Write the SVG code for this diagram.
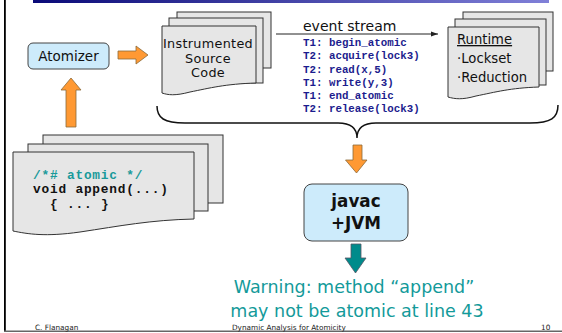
<svg xmlns="http://www.w3.org/2000/svg" width="562" height="333" viewBox="0 0 562 333">
<defs>
<linearGradient id="bar" x1="0" y1="0" x2="1" y2="0">
<stop offset="0" stop-color="#0a0a78"/>
<stop offset="1" stop-color="#8080d8"/>
</linearGradient>
<marker id="ah" markerWidth="8" markerHeight="6" refX="7" refY="3" orient="auto" markerUnits="userSpaceOnUse">
<path d="M0,0.5 L7,3 L0,5.5 Z" fill="#222"/>
</marker>
<style>
.page{fill:#e6e6e6;stroke:#333;stroke-width:1}
.box{fill:#cdebfb;stroke:#444;stroke-width:1}
.orange{fill:#ff9933;stroke:#8a6a3a;stroke-width:0.8}
.teal{fill:#008b8b;stroke:#556;stroke-width:0.8}
.sans{font-family:"DejaVu Sans","Liberation Sans",sans-serif}
.mono{font-family:"Liberation Mono","DejaVu Sans Mono",monospace;font-weight:bold}
.ev{fill:#1c1c8e;font-size:10.8px}
.src{font-size:12.8px;letter-spacing:0.8px}
.foot{font-family:"DejaVu Sans","Liberation Sans",sans-serif;font-size:7.3px;fill:#222}
</style>
</defs>
<rect width="562" height="333" fill="#ffffff"/>
<rect x="33" y="0" width="516" height="3" fill="url(#bar)"/>
<rect x="4" y="0" width="1.8" height="331" fill="#000"/>
<rect x="4" y="330.5" width="558" height="1.5" fill="#666"/>

<g id="atomizer">
<rect class="box" x="28" y="43" width="81" height="26" rx="5"/>
<text class="sans" x="68.5" y="61" font-size="13.5" text-anchor="middle" fill="#111">Atomizer</text>
</g>

<g id="instrumented">
<rect class="page" x="177" y="12" width="94" height="56"/>
<rect class="page" x="169" y="18" width="94" height="65"/>
<path class="page" d="M162,26 H256 V83 C225,84 210,88 190,92 C175,96 168,95 162,93 Z"/>
<text class="sans" font-size="12.8" letter-spacing="0.3" text-anchor="middle" fill="#111"><tspan x="208" y="48">Instrumented</tspan><tspan x="208" y="62.5">Source</tspan><tspan x="208" y="77">Code</tspan></text>
</g>

<g id="eventstream">
<text class="sans" x="303" y="31" font-size="14" fill="#111">event stream</text>
<text class="mono ev"><tspan x="303" y="46">T1: begin_atomic</tspan><tspan x="303" y="59">T2: acquire(lock3)</tspan><tspan x="303" y="73">T2: read(x,5)</tspan><tspan x="303" y="86">T1: write(y,3)</tspan><tspan x="303" y="99">T1: end_atomic</tspan><tspan x="303" y="112">T2: release(lock3)</tspan></text>
</g>

<g id="runtime">
<rect class="page" x="463" y="12" width="90" height="59"/>
<rect class="page" x="455" y="19" width="91" height="66"/>
<path class="page" d="M448,27 H539 V87 C510,88 496,92 476,96 C462,100 455,99 448,97 Z"/>
<text class="sans" x="457" y="44" font-size="13.2" fill="#111" text-decoration="underline">Runtime</text>
<text class="sans" x="457" y="63" font-size="13.2" fill="#111">·Lockset</text>
<text class="sans" x="457" y="82" font-size="13.2" fill="#111">·Reduction</text>
</g>

<g id="source">
<rect class="page" x="43" y="135" width="180" height="68"/>
<rect class="page" x="28" y="144" width="180" height="67"/>
<path class="page" d="M13,152 H194 V219 C150,220 120,226 80,232 C45,237 28,234 13,231 Z"/>
<text class="mono src" x="33" y="178.5" fill="#1a9a9a">/*# atomic */</text>
<text class="mono src" x="33" y="193" fill="#111">void append(...)</text>
<text class="mono src" x="50" y="207.5" fill="#111">{ ... }</text>
</g>

<g id="javac">
<rect class="box" x="304" y="184" width="104" height="57" rx="8"/>
<text class="sans" x="356" y="207" font-size="16.8" font-weight="bold" text-anchor="middle" fill="#111">javac</text>
<text class="sans" x="356" y="229" font-size="16.8" font-weight="bold" text-anchor="middle" fill="#111">+JVM</text>
</g>

<g id="warning">
<text class="sans" font-size="17.5" text-anchor="middle" fill="#139a9a"><tspan x="354" y="293">Warning: method “append”</tspan><tspan x="357" y="317">may not be atomic at line 43</tspan></text>
</g>

<g id="connectors">
<path class="orange" d="M118,51 H136 V46 L148,55 L136,64 V59 H118 Z"/>
<path class="orange" d="M66,127 V90 H61 L71,78 L81,90 H76 V127 Z"/>
<line x1="276" y1="34" x2="438" y2="34" stroke="#222" stroke-width="1" marker-end="url(#ah)"/>
<path d="M157,106 C157,118 164,123 185,123 H338 C350,123 357,128 357,138 C357,128 364,123 376,123 H530 C551,123 558,118 558,105" fill="none" stroke="#111" stroke-width="1.5"/>
<path class="orange" d="M353,145 V160 H345.5 L356.5,173 L367,160 H362 V145 Z"/>
<path class="teal" d="M351,244 V258 H345 L355.5,273 L366,258 H361 V244 Z"/>
</g>

<g id="footer">
<text class="foot" x="35" y="329.5">C. Flanagan</text>
<text class="foot" x="232" y="329.5">Dynamic Analysis for Atomicity</text>
<text class="foot" x="541" y="329.5">10</text>
</g>
</svg>
